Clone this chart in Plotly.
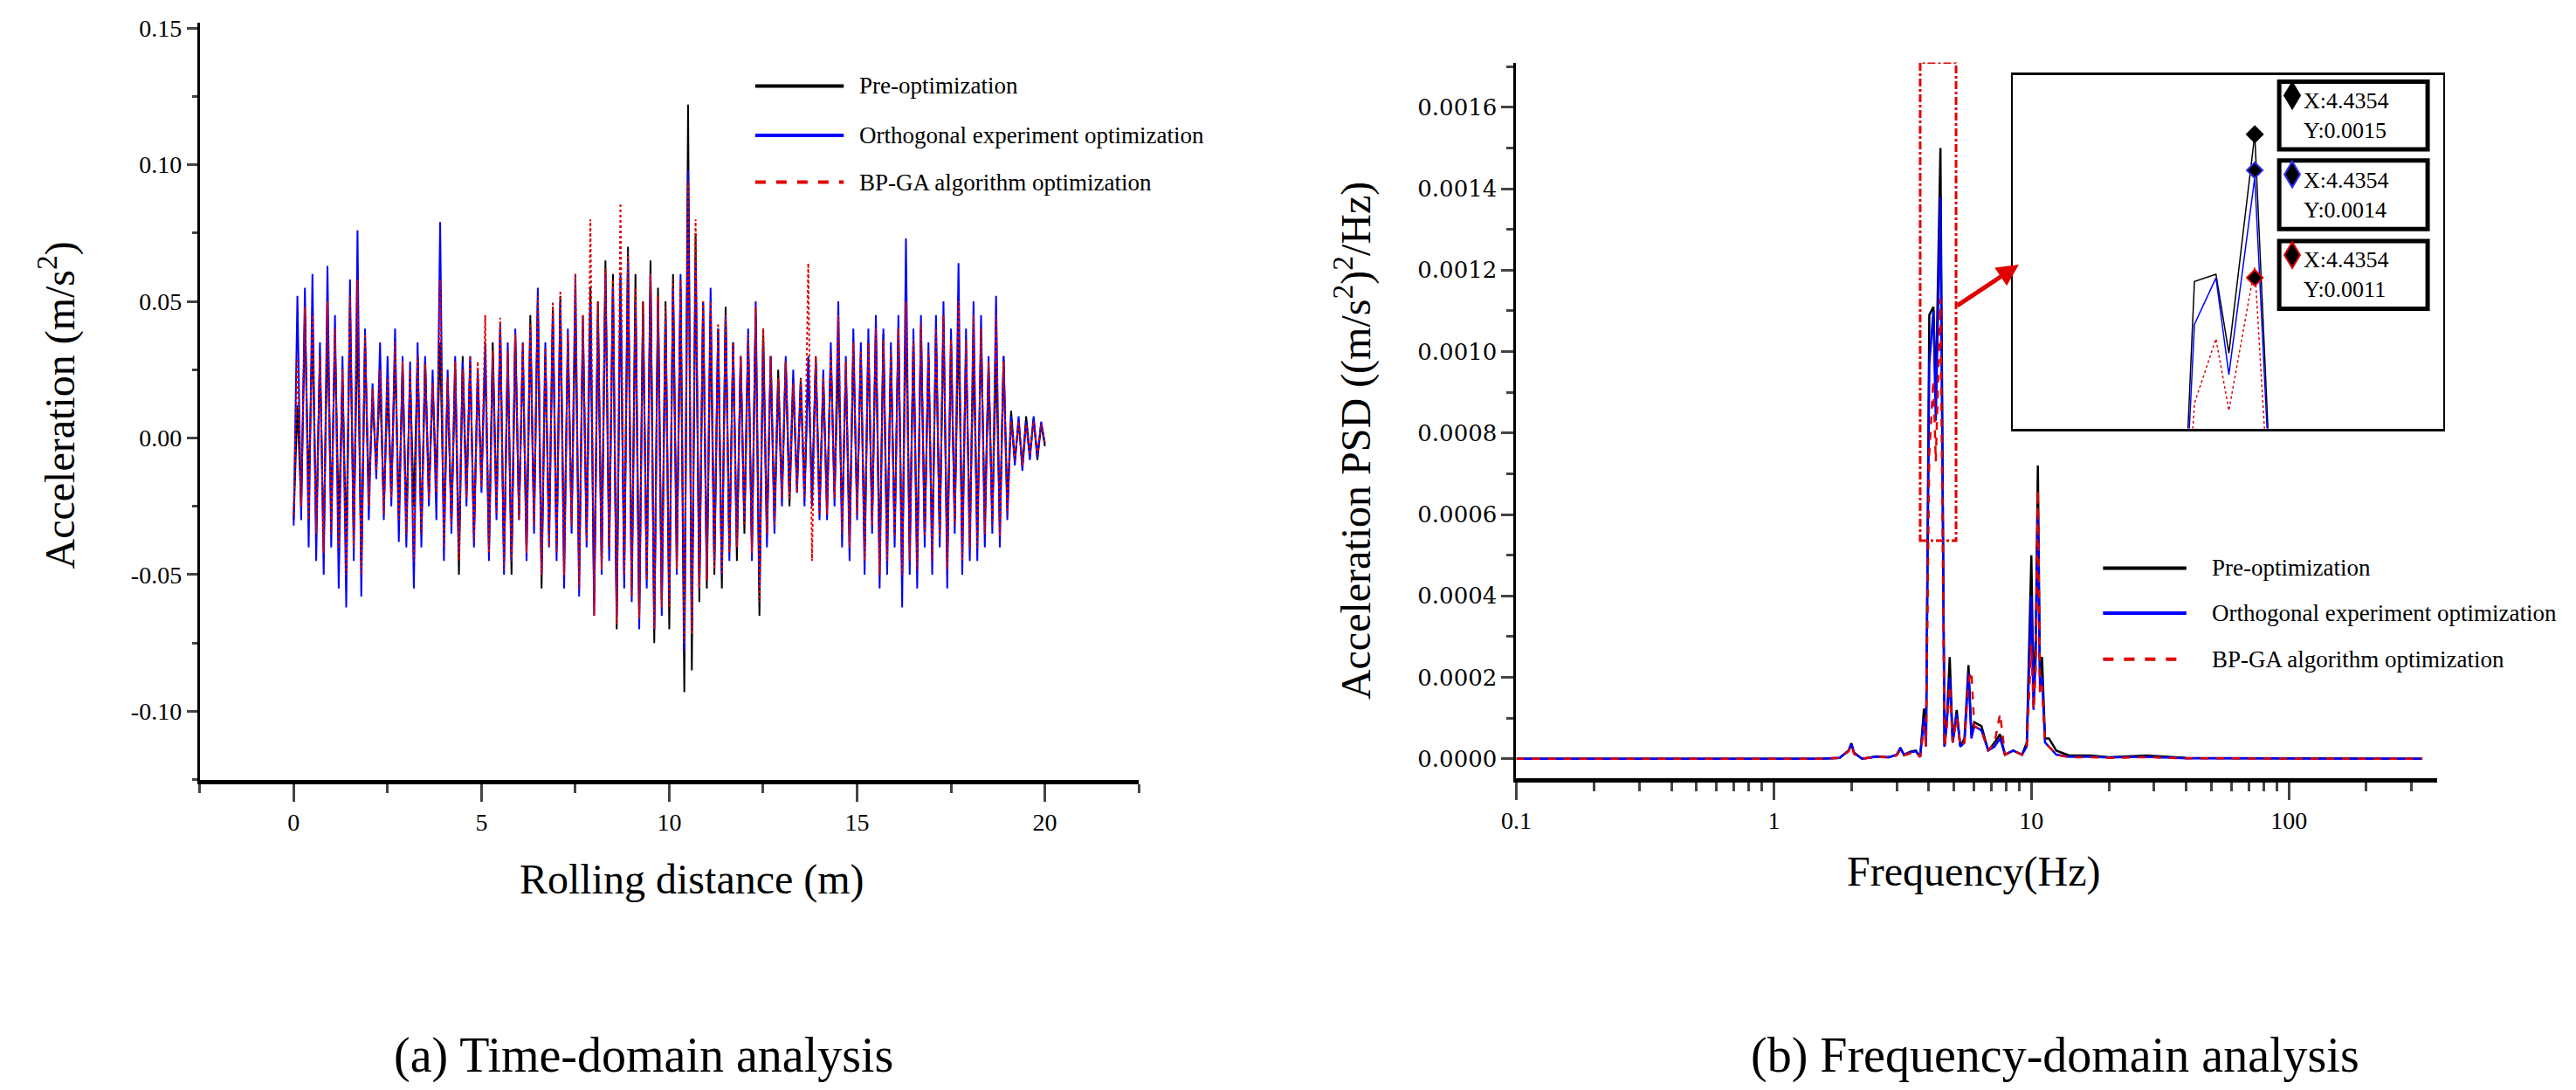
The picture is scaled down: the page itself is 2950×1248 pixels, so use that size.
import numpy as np
import plotly.graph_objects as go

W, H = 2950, 1248

# ---- time domain (rolling distance, m) ----
distance = np.round(np.arange(0, 20.01, 0.1), 1)

acc_pre = [
    -0.03, 0.012, -0.025, 0.045, -0.02, 0.038, -0.033, 0.03, -0.04, 0.041, -0.028, 0.036, -0.03, 0.02, -0.038, 0.048, -0.035, 0.042, -0.045, 0.035, -0.02,
    0.015, -0.01, 0.02, -0.025, 0.018, -0.02, 0.03, -0.028, 0.025, -0.03, 0.022, -0.025, 0.03, -0.035, 0.028, -0.02, 0.018, -0.015, 0.035, -0.032,
    0.02, -0.03, 0.025, -0.05, 0.03, -0.02, 0.028, -0.035, 0.022, -0.015, 0.03, -0.04, 0.035, -0.025, 0.04, -0.045, 0.03, -0.05, 0.038, -0.028,
    0.032, -0.04, 0.045, -0.03, 0.05, -0.055, 0.03, -0.035, 0.048, -0.04, 0.052, -0.045, 0.035, -0.03, 0.045, -0.05, 0.04, -0.035, 0.055, -0.06,
    0.05, -0.045, 0.065, -0.04, 0.06, -0.07, 0.058, -0.05, 0.07, -0.055, 0.06, -0.065, 0.05, -0.05, 0.065, -0.075, 0.055, -0.06, 0.05, -0.07,
    0.06, -0.045, 0.055, -0.093, 0.122, -0.085, 0.075, -0.06, 0.05, -0.055, 0.045, -0.05, 0.04, -0.055, 0.048, -0.04, 0.035, -0.045, 0.03, -0.035,
    0.035, -0.04, 0.045, -0.065, 0.04, -0.035, 0.03, -0.03, 0.025, -0.02, 0.028, -0.025, 0.02, -0.018, 0.022, -0.02, 0.025, -0.022, 0.03, -0.025,
    0.02, -0.025, 0.03, -0.02, 0.028, -0.03, 0.025, -0.035, 0.032, -0.025, 0.03, -0.04, 0.035, -0.03, 0.04, -0.045, 0.038, -0.04, 0.03, -0.035,
    0.04, -0.05, 0.045, -0.04, 0.035, -0.045, 0.04, -0.035, 0.03, -0.04, 0.038, -0.035, 0.042, -0.045, 0.035, -0.03, 0.04, -0.038, 0.032, -0.035,
    0.03, -0.035, 0.038, -0.03, 0.025, -0.03, 0.028, -0.032, 0.03, -0.025, 0.01, -0.008, 0.006, -0.01, 0.008, -0.006, 0.007, -0.008, 0.005, -0.003,
]
acc_orth = [
    -0.032, 0.052, -0.03, 0.055, -0.04, 0.06, -0.045, 0.035, -0.05, 0.063, -0.04, 0.045, -0.055, 0.03, -0.062, 0.058, -0.045, 0.076, -0.058, 0.04, -0.03,
    0.02, -0.015, 0.035, -0.03, 0.03, -0.025, 0.04, -0.038, 0.03, -0.04, 0.028, -0.055, 0.035, -0.04, 0.03, -0.025, 0.025, -0.03, 0.079, -0.045,
    0.025, -0.035, 0.03, -0.042, 0.028, -0.025, 0.03, -0.04, 0.025, -0.02, 0.035, -0.045, 0.03, -0.03, 0.042, -0.05, 0.035, -0.045, 0.04, -0.03,
    0.035, -0.045, 0.04, -0.035, 0.055, -0.05, 0.035, -0.04, 0.045, -0.045, 0.05, -0.055, 0.04, -0.035, 0.06, -0.058, 0.045, -0.04, 0.05, -0.065,
    0.045, -0.05, 0.06, -0.045, 0.055, -0.065, 0.06, -0.055, 0.065, -0.06, 0.05, -0.07, 0.045, -0.055, 0.06, -0.07, 0.05, -0.065, 0.045, -0.06,
    0.055, -0.05, 0.06, -0.078, 0.098, -0.07, 0.065, -0.055, 0.05, -0.05, 0.055, -0.045, 0.04, -0.05, 0.045, -0.045, 0.035, -0.04, 0.03, -0.03,
    0.04, -0.045, 0.05, -0.055, 0.035, -0.04, 0.03, -0.035, 0.02, -0.025, 0.03, -0.02, 0.025, -0.02, 0.02, -0.025, 0.03, -0.025, 0.028, -0.03,
    0.025, -0.03, 0.035, -0.025, 0.05, -0.04, 0.03, -0.045, 0.04, -0.03, 0.035, -0.05, 0.04, -0.035, 0.045, -0.055, 0.04, -0.05, 0.035, -0.04,
    0.045, -0.062, 0.073, -0.05, 0.04, -0.055, 0.045, -0.04, 0.035, -0.05, 0.045, -0.04, 0.05, -0.055, 0.04, -0.035, 0.064, -0.05, 0.04, -0.045,
    0.05, -0.045, 0.045, -0.04, 0.03, -0.035, 0.052, -0.04, 0.03, -0.03, 0.008, -0.01, 0.008, -0.012, 0.006, -0.008, 0.008, -0.007, 0.006, -0.002,
]
acc_bpga = [
    -0.028, 0.03, -0.025, 0.048, -0.03, 0.045, -0.035, 0.03, -0.042, 0.05, -0.035, 0.04, -0.04, 0.025, -0.05, 0.052, -0.04, 0.058, -0.05, 0.038, -0.025,
    0.018, -0.012, 0.025, -0.028, 0.022, -0.022, 0.035, -0.03, 0.028, -0.035, 0.025, -0.045, 0.03, -0.035, 0.027, -0.022, 0.02, -0.02, 0.058, -0.04,
    0.022, -0.032, 0.028, -0.045, 0.025, -0.022, 0.03, -0.038, 0.028, -0.018, 0.045, -0.042, 0.032, -0.028, 0.044, -0.048, 0.032, -0.045, 0.038, -0.03,
    0.035, -0.042, 0.042, -0.032, 0.052, -0.05, 0.033, -0.04, 0.05, -0.042, 0.054, -0.05, 0.038, -0.032, 0.06, -0.055, 0.045, -0.038, 0.08, -0.065,
    0.05, -0.048, 0.062, -0.04, 0.058, -0.068, 0.086, -0.05, 0.068, -0.058, 0.055, -0.066, 0.05, -0.052, 0.06, -0.07, 0.052, -0.062, 0.048, -0.062,
    0.058, -0.048, 0.058, -0.075, 0.094, -0.072, 0.08, -0.055, 0.05, -0.052, 0.05, -0.048, 0.042, -0.05, 0.045, -0.042, 0.035, -0.04, 0.03, -0.032,
    0.038, -0.042, 0.048, -0.06, 0.04, -0.035, 0.03, -0.032, 0.022, -0.022, 0.028, -0.022, 0.02, -0.02, 0.022, -0.022, 0.064, -0.045, 0.03, -0.028,
    0.022, -0.028, 0.032, -0.022, 0.045, -0.035, 0.028, -0.04, 0.035, -0.028, 0.032, -0.045, 0.035, -0.032, 0.04, -0.05, 0.036, -0.045, 0.032, -0.036,
    0.04, -0.05, 0.05, -0.045, 0.036, -0.048, 0.042, -0.036, 0.032, -0.045, 0.04, -0.036, 0.045, -0.048, 0.036, -0.032, 0.05, -0.045, 0.036, -0.04,
    0.045, -0.04, 0.04, -0.035, 0.028, -0.032, 0.045, -0.036, 0.028, -0.028, 0.006, -0.008, 0.006, -0.01, 0.005, -0.006, 0.006, -0.006, 0.005, -0.002,
]

# ---- frequency domain (PSD) ----
freq = [0.1, 1.5, 1.8, 1.95, 2.0, 2.05, 2.2, 2.5, 2.8, 3.0, 3.1, 3.2, 3.4, 3.56, 3.7, 3.83, 3.9,
        4.015, 4.165, 4.255, 4.4354, 4.6, 4.7, 4.82, 4.95, 5.13, 5.3, 5.5, 5.7, 5.85, 6.0, 6.4,
        6.8, 7.2, 7.56, 7.9, 8.5, 9.2, 9.6, 10.0, 10.2, 10.4, 10.6, 10.8, 11.0, 11.3, 11.7, 12.5,
        14, 17, 20, 28, 40, 100, 330]
psd_pre = [0, 0, 0.000002, 0.00002, 0.000038, 0.000015, 0, 0.000006, 0.000004, 0.00001, 0.000027, 0.00001, 0.000018, 0.00002, 0.000005, 0.000123, 0.00004,
           0.00109, 0.00111, 0.00089, 0.0015, 0.00003, 0.0001, 0.00025, 0.00004, 0.00012, 0.00003, 0.00005, 0.00023, 0.00006, 0.00009, 0.00008,
           0.00002, 0.00004, 0.00006, 0.00001, 0.00002, 0.00001, 0.00004, 0.0005, 0.00015, 0.0003, 0.00072, 0.0002, 0.00025, 0.00005, 0.00005, 0.00002,
           0.000008, 0.000008, 0.000004, 0.000008, 0.000002, 0.000001, 0]
psd_orth = [0, 0, 0.000002, 0.00002, 0.000036, 0.000014, 0, 0.000005, 0.000004, 0.00001, 0.000025, 0.00001, 0.000016, 0.000018, 0.000005, 0.0001, 0.00003,
            0.00097, 0.0011, 0.00083, 0.00138, 0.00003, 0.00009, 0.0002, 0.00004, 0.00011, 0.00003, 0.00004, 0.00021, 0.00005, 0.00008, 0.00007,
            0.00002, 0.00003, 0.00005, 0.00001, 0.00002, 0.00001, 0.00003, 0.0004, 0.00012, 0.00025, 0.0006, 0.00018, 0.0002, 0.00004, 0.00003, 0.00001,
            0.000005, 0.000005, 0.000003, 0.000005, 0.000001, 0.000001, 0]
psd_bpga = [0, 0, 0.000002, 0.000018, 0.000034, 0.000012, 0, 0.000005, 0.000003, 0.000008, 0.000022, 0.000008, 0.000014, 0.000016, 0.000004, 0.00008, 0.00003,
            0.00075, 0.00093, 0.00073, 0.00113, 0.00003, 0.00008, 0.00018, 0.00004, 0.0001, 0.00003, 0.00004, 0.00019, 0.000215, 0.00008, 0.00007,
            0.00002, 0.00004, 0.00011, 0.00001, 0.00002, 0.00001, 0.00003, 0.00028, 0.00012, 0.00022, 0.00066, 0.00016, 0.00018, 0.00004, 0.00003, 0.00001,
            0.000004, 0.000004, 0.000002, 0.000004, 0.000001, 0.000001, 0]

peak_f = 4.4354
peak_vals = [0.0015, 0.0014, 0.0011]
peak_text = ["0.0015", "0.0014", "0.0011"]

names = ["Pre-optimization", "Orthogonal experiment optimization", "BP-GA algorithm optimization"]
colors = ["#000000", "#0000ff", "#e00000"]
dashes = ["solid", "solid", "dash"]

SERIF = "Liberation Serif"


def px(x):
    return x / W


def py(y):
    return 1 - y / H


fig = go.Figure()

for vals, c, d in zip([acc_pre, acc_orth, acc_bpga], colors, dashes):
    fig.add_trace(go.Scatter(x=distance, y=vals, mode="lines", xaxis="x", yaxis="y",
                             line=dict(color=c, width=2, dash="dot" if d == "dash" else d),
                             showlegend=False))

for vals, c, d in zip([psd_pre, psd_orth, psd_bpga], colors, dashes):
    fig.add_trace(go.Scatter(x=freq, y=vals, mode="lines", xaxis="x2", yaxis="y2",
                             line=dict(color=c, width=2.5, dash=d), showlegend=False))

# inset (zoom of the 4.4 Hz peak)
for vals, c, d in zip([psd_pre, psd_orth, psd_bpga], colors, dashes):
    fig.add_trace(go.Scatter(x=freq, y=vals, mode="lines", xaxis="x3", yaxis="y3",
                             line=dict(color=c, width=1.5, dash="dot" if d == "dash" else d),
                             showlegend=False))
fig.add_trace(go.Scatter(x=[peak_f] * 3, y=peak_vals, mode="markers", xaxis="x3", yaxis="y3",
                         marker=dict(symbol="diamond", size=14, color="black",
                                     line=dict(color=["black", "#3030ff", "#e00000"], width=2)),
                         showlegend=False))

axfont = dict(family=SERIF, size=28, color="black")
fig.update_layout(
    width=W, height=H, margin=dict(l=0, r=0, t=0, b=0),
    paper_bgcolor="white", plot_bgcolor="white",
    xaxis=dict(domain=[px(204), px(1286)], range=[-2.5, 22.5], showgrid=False, zeroline=False,
               showline=True, linecolor="black", linewidth=5, ticks="outside", ticklen=20, tickwidth=3,
               tickvals=[0, 5, 10, 15, 20], tickfont=axfont,
               minor=dict(ticks="outside", ticklen=10, tickwidth=3, dtick=2.5, tick0=0)),
    yaxis=dict(domain=[py(882), py(9)], range=[-0.125, 0.152], showgrid=False, zeroline=False,
               showline=True, linecolor="black", linewidth=3, ticks="outside", ticklen=12, tickwidth=3,
               tickvals=[-0.10, -0.05, 0.0, 0.05, 0.10, 0.15],
               ticktext=["-0.10", "-0.05", "0.00", "0.05", "0.10", "0.15"], tickfont=axfont,
               minor=dict(ticks="outside", ticklen=6, tickwidth=3, dtick=0.025, tick0=0)),
    xaxis2=dict(domain=[px(1721), px(2782)], type="log", range=[-1, 2.576], showgrid=False,
                zeroline=False, showline=True, linecolor="black", linewidth=5, ticks="outside",
                ticklen=20, tickwidth=3, tickvals=[0.1, 1, 10, 100], ticktext=["0.1", "1", "10", "100"],
                tickfont=axfont, anchor="y2",
                minor=dict(ticks="outside", ticklen=10, tickwidth=3, dtick="D1")),
    yaxis2=dict(domain=[py(880), py(55)], range=[-0.000047, 0.00171], showgrid=False, zeroline=False,
                showline=True, linecolor="black", linewidth=3, ticks="outside", ticklen=14, tickwidth=3,
                dtick=0.0002, tickformat=".4f", anchor="x2",
                tickfont=dict(family="DejaVu Serif", size=26, color="black"),
                minor=dict(ticks="outside", ticklen=8, tickwidth=3, dtick=0.0001)),
    xaxis3=dict(domain=[px(2293), px(2789)], range=[2.749, 5.749], showgrid=False, zeroline=False,
                showline=True, mirror=True, linecolor="black", linewidth=3, showticklabels=False,
                ticks="", anchor="y3"),
    yaxis3=dict(domain=[py(477), py(70)], range=[0.00068, 0.001664], showgrid=False, zeroline=False,
                showline=True, mirror=True, linecolor="black", linewidth=2, showticklabels=False,
                ticks="", anchor="x3"),
)

shapes = []
annotations = []

# red dash-dot box around the peak in the PSD plot
shapes.append(dict(type="rect", xref="x2", yref="y2", x0=3.7, x1=5.1, y0=0.000536, y1=0.00171,
                   line=dict(color="#e00000", width=3, dash="dashdot")))
annotations.append(dict(xref="paper", yref="paper", x=px(2300), y=py(288), axref="pixel", ayref="pixel",
                        ax=-72, ay=48, showarrow=True, arrowhead=2, arrowsize=1, arrowwidth=5,
                        arrowcolor="#e00000", text=""))

# data-tip boxes
box_y = [(77, 155), (168, 247), (261, 339)]
diamond_fill = ["black", "black", "black"]
diamond_edge = ["black", "#3030ff", "#e00000"]
for (y0, y1), v, fc, ec in zip(box_y, peak_text, diamond_fill, diamond_edge):
    shapes.append(dict(type="rect", xref="paper", yref="paper", x0=px(2600), x1=px(2771),
                       y0=py(y1), y1=py(y0), line=dict(color="black", width=5), fillcolor="white"))
    cx, cy = 2615, y0 + 16
    shapes.append(dict(type="path", xref="paper", yref="paper",
                       path=f"M {px(cx)},{py(cy - 15)} L {px(cx + 9)},{py(cy)} L {px(cx)},{py(cy + 15)} L {px(cx - 9)},{py(cy)} Z",
                       fillcolor=fc, line=dict(color=ec, width=2)))
    annotations.append(dict(xref="paper", yref="paper", x=px(2626), y=py((y0 + y1) / 2), xanchor="left",
                            yanchor="middle", showarrow=False, align="left",
                            text=f"X:4.4354<br>Y:{v}", font=dict(family=SERIF, size=26, color="black")))


# legends
def legend(x0, x1, xt, ys, size):
    for y, n, c, d in zip(ys, names, colors, dashes):
        shapes.append(dict(type="line", xref="paper", yref="paper", x0=px(x0), x1=px(x1), y0=py(y), y1=py(y),
                           line=dict(color=c, width=4, dash=d)))
        annotations.append(dict(xref="paper", yref="paper", x=px(xt), y=py(y), xanchor="left", yanchor="middle",
                                showarrow=False, text=n, font=dict(family=SERIF, size=size, color="black")))


legend(844, 946, 962, [82, 139, 193], 27)
legend(2397, 2493, 2520, [638, 690, 743], 27)

# axis titles and captions
title_font = dict(family=SERIF, size=48, color="black")
cap_font = dict(family=SERIF, size=56, color="black")
centred = dict(xref="paper", yref="paper", xanchor="center", yanchor="middle", showarrow=False)
annotations += [
    dict(centred, x=px(40), y=py(450), text="Acceleration (m/s<sup>2</sup>)", textangle=-90, font=title_font),
    dict(centred, x=px(771), y=py(997), text="Rolling distance (m)", font=title_font),
    dict(centred, x=px(1533), y=py(491), text="Acceleration PSD ((m/s<sup>2</sup>)<sup>2</sup>/Hz)",
         textangle=-90, font=title_font),
    dict(centred, x=px(2248), y=py(988), text="Frequency(Hz)", font=title_font),
    dict(centred, x=px(715), y=py(1200), text="(a) Time-domain analysis", font=cap_font),
    dict(centred, x=px(2342), y=py(1200), text="(b) Frequency-domain analysis", font=cap_font),
]

fig.update_layout(shapes=shapes, annotations=annotations)
fig.write_html("out.html")
